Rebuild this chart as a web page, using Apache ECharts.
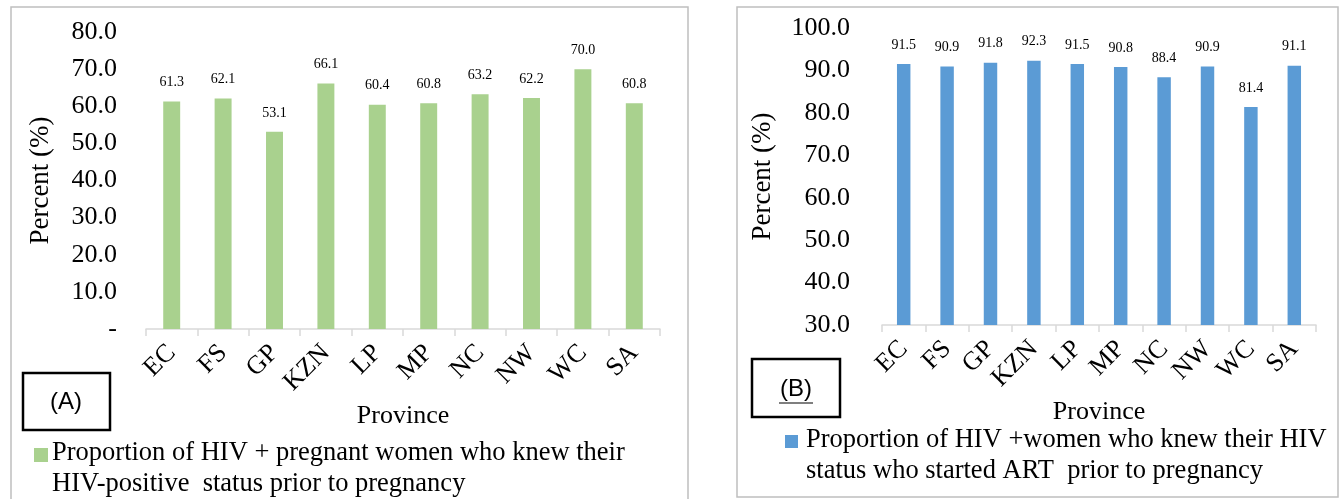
<!DOCTYPE html>
<html>
<head>
<meta charset="utf-8">
<script src="https://cdn.jsdelivr.net/npm/echarts@6/dist/echarts.min.js"></script>
<style>
html,body{margin:0;padding:0;background:#fff;}
#chart{width:1343px;height:499px;}
</style>
</head>
<body>
<div id="chart"></div>
<script>
// ---- data ----
const provinces = ['EC','FS','GP','KZN','LP','MP','NC','NW','WC','SA'];
const knewStatus = [61.3, 62.1, 53.1, 66.1, 60.4, 60.8, 63.2, 62.2, 70.0, 60.8];
const startedART = [91.5, 90.9, 91.8, 92.3, 91.5, 90.8, 88.4, 90.9, 81.4, 91.1];
const legendA = ['Proportion of HIV + pregnant women who knew their', 'HIV-positive  status prior to pregnancy'];
const legendB = ['Proportion of HIV +women who knew their HIV', 'status who started ART  prior to pregnancy'];
const panelA = '(A)';
const panelB = '(B)';
const xName = 'Province';
const yName = 'Percent (%)';

const SERIF = 'Liberation Serif';
const SANS = 'Liberation Sans';
const GREEN = '#A9D18E';
const BLUE = '#5B9BD5';
const AXIS = '#D9D9D9';

const chart = echarts.init(document.getElementById('chart'), null, {renderer:'canvas'});

function xAxisCfg(gridIndex){
  return {
    type:'category', gridIndex, data: provinces,
    name: xName, nameLocation:'middle', nameGap: 71,
    nameTextStyle:{fontFamily:SERIF, fontSize:26, color:'#000'},
    axisLine:{show:true, lineStyle:{color:AXIS, width:1.5}},
    axisTick:{show:true, length:7, lineStyle:{color:AXIS, width:1.5}},
    axisLabel:{rotate:45, interval:0, margin:20, fontFamily:SERIF, fontSize:26, color:'#000'}
  };
}

const option = {
  animation:false,
  backgroundColor:'#fff',
  grid:[
    {left:146, right:683, top:32, bottom:170, containLabel:false},
    {left:882, right:27, top:28, bottom:174, containLabel:false}
  ],
  xAxis:[xAxisCfg(0), xAxisCfg(1)],
  yAxis:[
    {type:'value', gridIndex:0, min:0, max:80, interval:10,
     name:yName, nameLocation:'middle', nameGap:92,
     nameTextStyle:{fontFamily:SERIF, fontSize:27, color:'#000'},
     axisLine:{show:false}, axisTick:{show:false}, splitLine:{show:false},
     axisLabel:{margin:29, fontFamily:SERIF, fontSize:26, color:'#000',
       formatter:v => v === 0 ? '-' : v.toFixed(1)}},
    {type:'value', gridIndex:1, min:30, max:100, interval:10,
     name:yName, nameLocation:'middle', nameGap:106,
     nameTextStyle:{fontFamily:SERIF, fontSize:27, color:'#000'},
     axisLine:{show:false}, axisTick:{show:false}, splitLine:{show:false},
     axisLabel:{margin:32, fontFamily:SERIF, fontSize:26, color:'#000',
       formatter:v => v.toFixed(1)}}
  ],
  series:[
    {type:'bar', name:legendA.join(' '), xAxisIndex:0, yAxisIndex:0, data:knewStatus,
     barWidth:'33%', itemStyle:{color:GREEN},
     label:{show:true, position:'top', distance:12, fontFamily:SERIF, fontSize:14, color:'#000',
       formatter:p => p.value.toFixed(1)}},
    {type:'bar', name:legendB.join(' '), xAxisIndex:1, yAxisIndex:1, data:startedART,
     barWidth:'31%', itemStyle:{color:BLUE},
     label:{show:true, position:'top', distance:12, fontFamily:SERIF, fontSize:14, color:'#000',
       formatter:p => p.value.toFixed(1)}}
  ],
  graphic:[
    {type:'rect', shape:{x:11, y:7, width:677, height:500}, style:{fill:null, stroke:'#BFBFBF', lineWidth:1.5}, z:-1},
    {type:'rect', shape:{x:737, y:7, width:601, height:490}, style:{fill:null, stroke:'#BFBFBF', lineWidth:1.5}, z:-1},
    {type:'rect', shape:{x:23, y:373, width:87, height:57}, style:{fill:'#fff', stroke:'#000', lineWidth:2.5}},
    {type:'text', x:66, y:402, style:{text:panelA, fontFamily:SANS, fontSize:24, fill:'#000', align:'center', verticalAlign:'middle'}},
    {type:'rect', shape:{x:752, y:359, width:88, height:58}, style:{fill:'#fff', stroke:'#000', lineWidth:2.5}},
    {type:'text', x:796, y:389, style:{text:panelB, fontFamily:SANS, fontSize:24, fill:'#000', align:'center', verticalAlign:'middle'}},
    {type:'line', shape:{x1:779, y1:403, x2:813, y2:403}, style:{stroke:'#000', lineWidth:1.2}},
    {type:'rect', shape:{x:34, y:448, width:14, height:14}, style:{fill:GREEN}},
    {type:'text', x:52, y:453, style:{text:legendA[0], fontFamily:SERIF, fontSize:26.5, fill:'#000', align:'left', verticalAlign:'middle'}},
    {type:'text', x:52, y:484, style:{text:legendA[1], fontFamily:SERIF, fontSize:26.5, fill:'#000', align:'left', verticalAlign:'middle'}},
    {type:'rect', shape:{x:785, y:435, width:13, height:13}, style:{fill:BLUE}},
    {type:'text', x:806, y:440, style:{text:legendB[0], fontFamily:SERIF, fontSize:26.5, fill:'#000', align:'left', verticalAlign:'middle'}},
    {type:'text', x:806, y:471, style:{text:legendB[1], fontFamily:SERIF, fontSize:26.5, fill:'#000', align:'left', verticalAlign:'middle'}}
  ]
};
chart.setOption(option);
</script>
</body>
</html>
